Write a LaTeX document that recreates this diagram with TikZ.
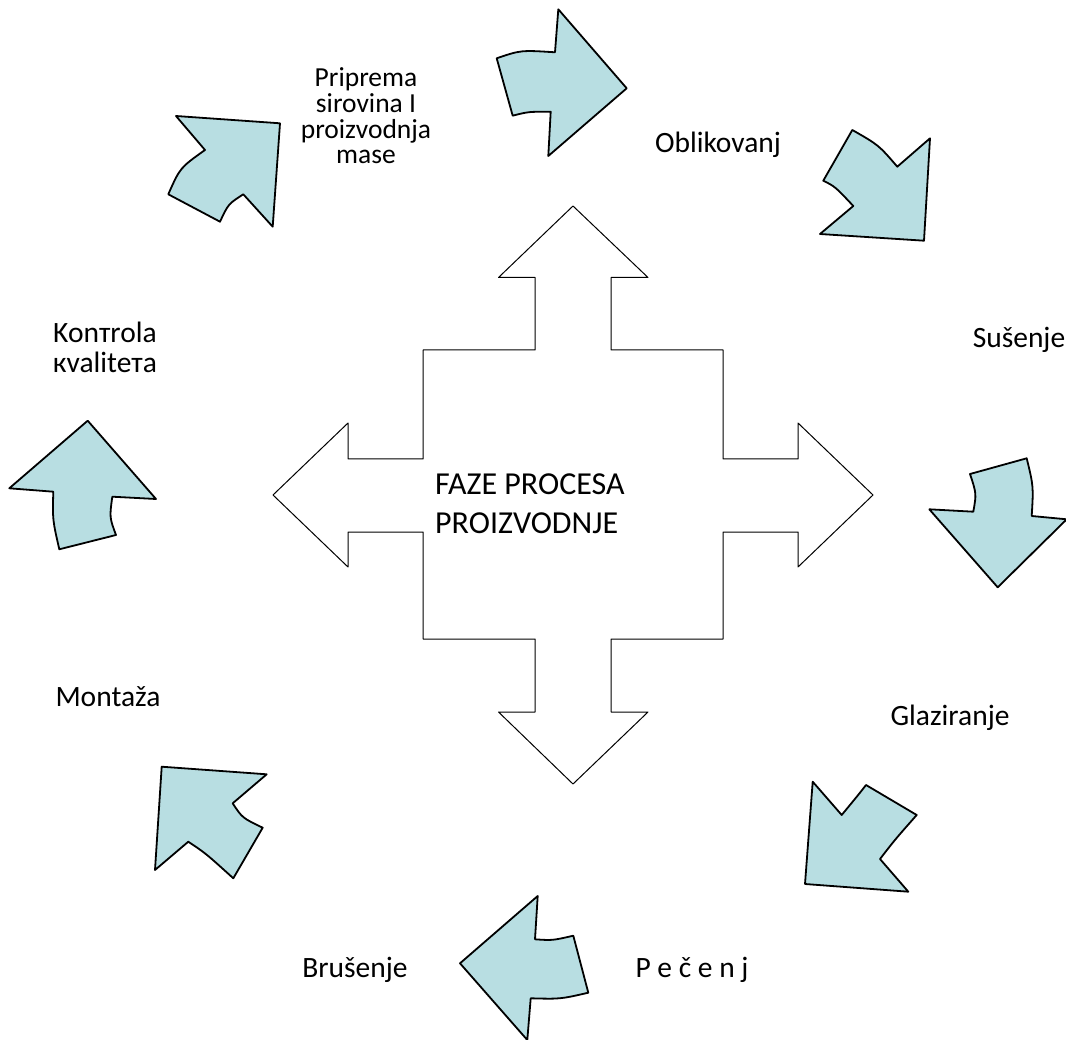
\documentclass[tikz,border=0pt]{standalone}
\usepackage{fontspec}
\setmainfont{Carlito}
\definecolor{arrowblue}{RGB}{184,222,226}
\tikzset{
  blockarrow/.style={fill=arrowblue,draw=black,line width=1.8pt},
  crossarrow/.style={draw=black,line width=1pt},
  phase/.style={inner sep=0pt,align=center,font=\fontsize{29.5}{31}\selectfont},
}
\begin{document}
\begin{tikzpicture}[x=1pt,y=-1pt,line cap=round,line join=round]
		\useasboundingbox (0,0) rectangle (1066,1040);
		% the four-way arrow in the middle
		\draw[crossarrow] (573,206) -- (648,277.5) -- (611,277.5) -- (611,350) -- (723,350) -- (723,459)
			-- (798,459) -- (798,423) -- (873,495) -- (798,567) -- (798,532) -- (723,532) -- (723,639)
			-- (611,639) -- (611,712) -- (648,712) -- (573,784) -- (498.5,712) -- (535,712) -- (535,639)
			-- (423,639) -- (423,532) -- (348,532) -- (348,567) -- (273,495) -- (348,423) -- (348,459)
			-- (423,459) -- (423,350) -- (535,350) -- (535,277.5) -- (498.5,277.5) -- cycle;
		\node (faze) [anchor=west,inner sep=0pt,align=left,font=\fontsize{32}{38.5}\selectfont] at (435,503.5)
			{FAZE PROCESA\\PROIZVODNJE};
		% the ring of curved block arrows
		\draw[blockarrow] (496.7,58.3) .. controls (520.8,50.1) .. (555,52.3) -- (558.3,9.3) -- (626.7,88.3)
			-- (548.3,156) -- (550.7,111.7) .. controls (528.3,111.7) .. (512.7,115.7) -- cycle;
		\draw[blockarrow] (852.3,130) .. controls (878.6,145) .. (897.3,166.7) -- (930,138.3) -- (924,240.7)
			-- (820,234) -- (853.3,206) .. controls (835.1,186.6) .. (823.3,180.7) -- cycle;
		\draw[blockarrow] (970,474) -- (1026.7,458.3) .. controls (1033.5,486.3) .. (1031.7,516) -- (1066.7,519.3)
			-- (997.7,587.3) -- (929.3,509.3) -- (973.3,511.7) .. controls (976.5,493.7) .. (970,474) -- cycle;
		\draw[blockarrow] (812.7,781.7) -- (841.7,815) .. controls (859.5,793.4) .. (866,785) -- (916.7,815)
			.. controls (895,839.6) .. (880,859) -- (908.3,891.7) -- (805,884) -- cycle;
		\draw[blockarrow] (460,963.3) -- (537.7,896) -- (535,939.3) .. controls (552.5,940.5) .. (573.3,935.7)
			-- (588.3,992.7) .. controls (560.5,999.1) .. (530.7,998.3) -- (527.3,1040) -- cycle;
		\draw[blockarrow] (161.7,766.7) -- (266.7,774.3) -- (232.7,803.3) .. controls (242.3,817.9) .. (262.7,827.7)
			-- (233.3,878.3) .. controls (205.8,853.4) .. (188.3,841.7) -- (155,870) -- cycle;
		\draw[blockarrow] (87.7,420.7) -- (156,499) -- (112.3,496.7) .. controls (109.5,517.5) .. (116,535)
			-- (59.3,549.3) .. controls (52.5,519.5) .. (53.3,491.7) -- (9.3,488.3) -- cycle;
		\draw[blockarrow] (176,116) -- (280,123.3) -- (272.7,226.7) -- (243.3,194.3) .. controls (228.3,204) .. (220,221.7)
			-- (168.3,194.3) .. controls (180,167.8) .. (205,150) -- cycle;
		% phase labels
		\node (priprema) [phase,font=\fontsize{27.5}{25.7}\selectfont] at (366,116) {Priprema\\sirovina I\\proizvodnja\\mase};
		\node (oblikovanje) [phase] at (718,145) {Oblikovanj};
		\node (susenje) [phase] at (1019,340) {Sušenje};
		\node (glaziranje) [phase] at (950,718) {Glaziranje};
		\node (pecenje) [phase] at (692,970) {P e č e n j};
		\node (brusenje) [phase] at (355,970) {Brušenje};
		\node (montaza) [phase] at (108,697) {Montaža};
		\node (kontrola) [phase,font=\fontsize{29.5}{30}\selectfont] at (105,347) {Konтrola\\кvaliteтa};
\end{tikzpicture}
\end{document}
